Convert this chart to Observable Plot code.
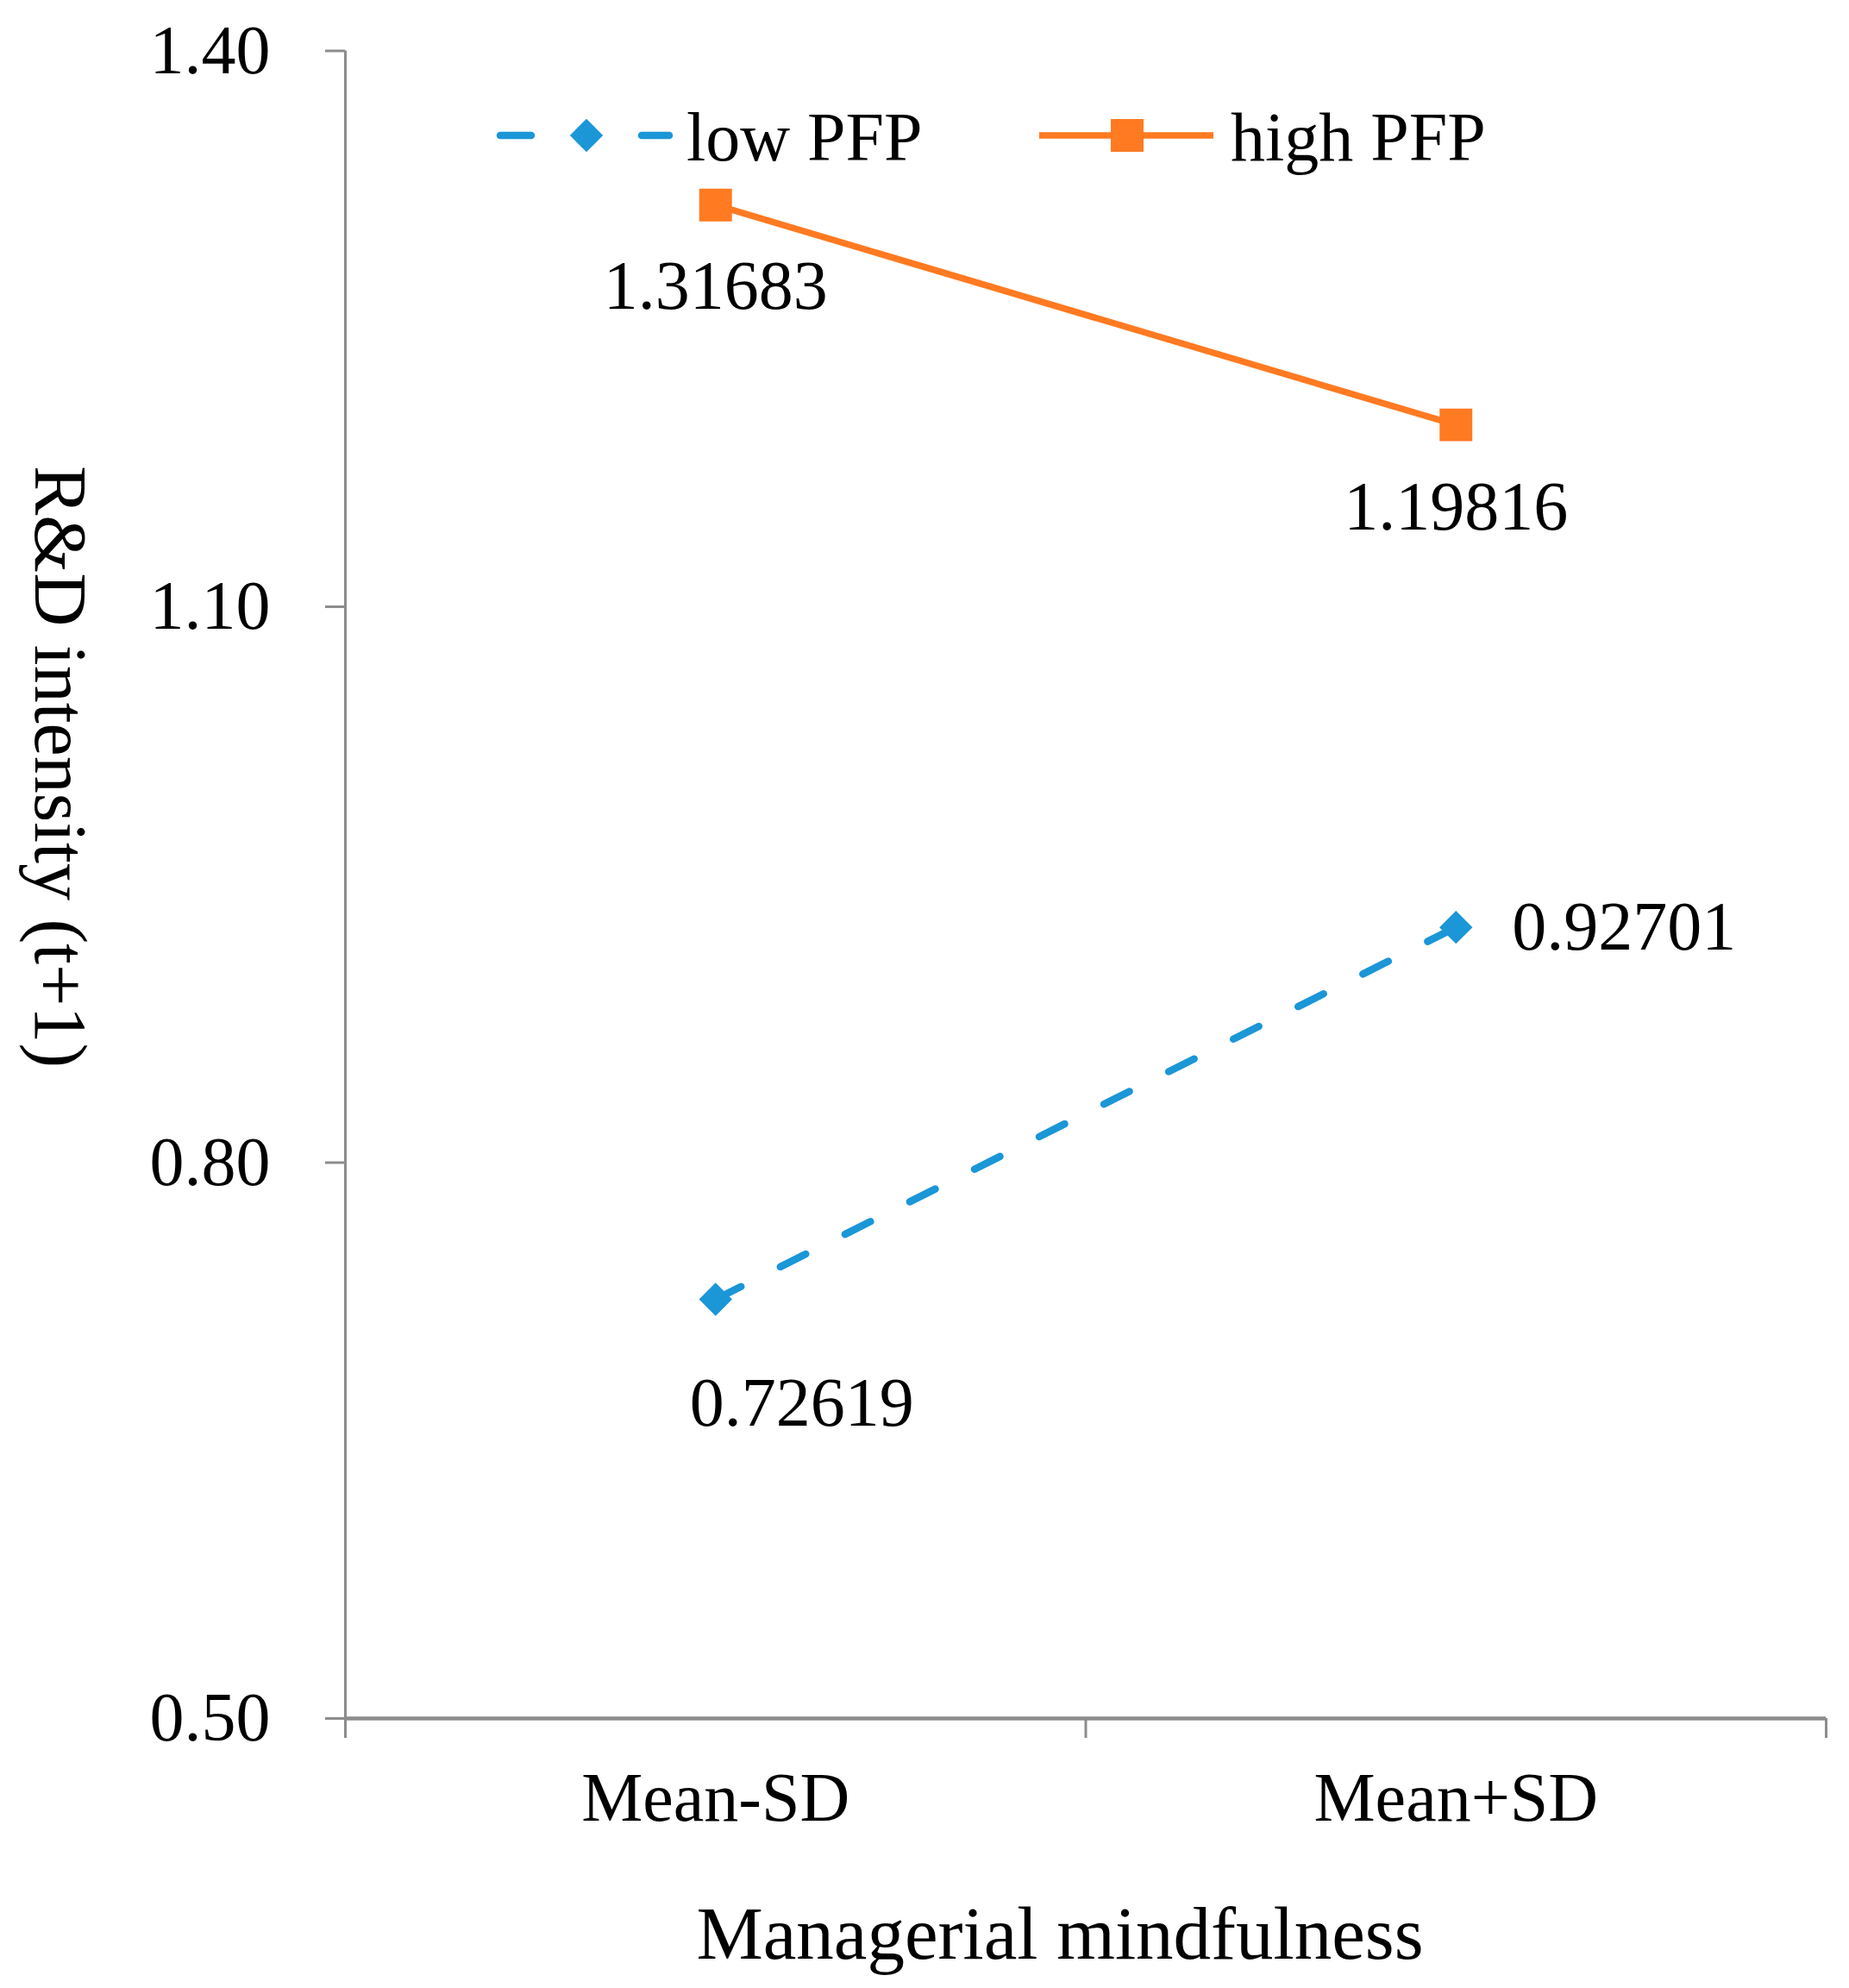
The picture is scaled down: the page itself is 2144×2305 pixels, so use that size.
<!DOCTYPE html>
<html>
<head>
<meta charset="utf-8">
<script src="https://cdn.jsdelivr.net/npm/d3@7"></script>
<script src="https://cdn.jsdelivr.net/npm/@observablehq/plot@0.6"></script>
<style>
  html, body { margin: 0; padding: 0; background: #ffffff; }
  #chart svg { display: block; }
</style>
</head>
<body>
<div id="chart"></div>
<script>
// ---- data ----
const categories = ["Mean-SD", "Mean+SD"];
const seriesNames = ["low PFP", "high PFP"];
const lowPFP = [0.72619, 0.92701];
const highPFP = [1.31683, 1.19816];
const yTicks = [0.50, 0.80, 1.10, 1.40];
const xTitle = "Managerial mindfulness";
const yTitle = "R&D intensity (t+1)";

// ---- layout / style ----
const W = 2144, H = 2305;
const M = {top: 58.5, right: 27, bottom: 313, left: 400};
const blue = "#1b96d7", orange = "#ff7a21", axisGray = "#8c8c8c";
const font = "'Liberation Serif', 'Times New Roman', serif";
const fs = 80;
const lowWidth = 8.5, highWidth = 7.5;
// label placement per series (offsets in px from each point)
const labelPlacement = {
  "low PFP":  [{dx: 100, dy: 121, anchor: "middle"}, {dx: 65, dy: 0, anchor: "start"}],
  "high PFP": [{dx: 0, dy: 95, anchor: "middle"}, {dx: 0, dy: 96, anchor: "middle"}]
};

const pos = i => i + 0.5;
const lowData = categories.map((c, i) => ({cat: c, i, value: lowPFP[i], series: seriesNames[0]}));
const highData = categories.map((c, i) => ({cat: c, i, value: highPFP[i], series: seriesNames[1]}));

const labelMarks = [];
[[lowData, seriesNames[0]], [highData, seriesNames[1]]].forEach(([arr, name]) => {
  arr.forEach((d, k) => {
    const p = labelPlacement[name][k];
    labelMarks.push(Plot.text([d], {
      x: d => pos(d.i), y: "value", text: d => d3.format(".5f")(d.value),
      dx: p.dx, dy: p.dy, textAnchor: p.anchor, lineAnchor: "middle",
      fontSize: fs, fill: "#000"
    }));
  });
});

const chart = Plot.plot({
  width: W, height: H,
  marginTop: M.top, marginRight: M.right, marginBottom: M.bottom, marginLeft: M.left,
  style: {fontFamily: font, fontSize: fs + "px", background: "#fff", color: "#000", overflow: "visible"},
  x: {type: "linear", domain: [0, categories.length], axis: null},
  y: {type: "linear", domain: [yTicks[0], yTicks[yTicks.length - 1]], axis: null},
  marks: [
    // axes lines
    Plot.ruleX([0], {stroke: axisGray, strokeWidth: 3}),
    Plot.axisY({ticks: yTicks, tickFormat: d3.format(".2f"), tickSize: 23, tickPadding: 64,
      stroke: axisGray, strokeWidth: 3, fill: "#000", fontSize: fs, label: null}),
    Plot.axisX({ticks: d3.range(categories.length + 1), tickSize: 23, tickFormat: () => "",
      stroke: axisGray, strokeWidth: 3, label: null}),
    Plot.axisX({ticks: categories.map((c, i) => pos(i)), tickSize: 0, tickPadding: 62,
      tickFormat: d => categories[Math.floor(d)], fill: "#000", fontSize: fs, label: null}),
    Plot.ruleY([yTicks[0]], {stroke: axisGray, strokeWidth: 4.5}),
    // series
    Plot.line(highData, {x: d => pos(d.i), y: "value", stroke: orange, strokeWidth: highWidth}),
    Plot.line(lowData, {x: d => pos(d.i), y: "value", stroke: blue, strokeWidth: lowWidth,
      strokeDasharray: "33,51", strokeLinecap: "round"}),
    Plot.dot(highData, {x: d => pos(d.i), y: "value", symbol: "square", r: 21.4, fill: orange, stroke: "none"}),
    Plot.dot(lowData, {x: d => pos(d.i), y: "value", symbol: "diamond2", r: 17.3, fill: blue, stroke: "none"}),
    ...labelMarks
  ]
});

document.getElementById("chart").appendChild(chart);

// ---- legend and axis titles (decorations) ----
const svg = d3.select(chart);
const g = svg.append("g").attr("font-family", font).attr("fill", "#000");
const ly = 157;
// low PFP legend
g.append("line").attr("x1", 580).attr("x2", 616).attr("y1", ly).attr("y2", ly)
  .attr("stroke", blue).attr("stroke-width", lowWidth).attr("stroke-linecap", "round");
g.append("line").attr("x1", 744).attr("x2", 776).attr("y1", ly).attr("y2", ly)
  .attr("stroke", blue).attr("stroke-width", lowWidth).attr("stroke-linecap", "round");
g.append("path").attr("transform", `translate(680,${ly})`)
  .attr("d", d3.symbol(d3.symbolDiamond2, Math.PI * 17.3 * 17.3)()).attr("fill", blue);
g.append("text").attr("x", 796).attr("y", 186).attr("font-size", fs)
  .attr("text-anchor", "start").text(seriesNames[0]);
// high PFP legend
g.append("line").attr("x1", 1205).attr("x2", 1407).attr("y1", ly).attr("y2", ly)
  .attr("stroke", orange).attr("stroke-width", highWidth);
g.append("path").attr("transform", `translate(1307,${ly})`)
  .attr("d", d3.symbol(d3.symbolSquare, Math.PI * 21.4 * 21.4)()).attr("fill", orange);
g.append("text").attr("x", 1427).attr("y", 186).attr("font-size", fs)
  .attr("text-anchor", "start").text(seriesNames[1]);

// axis titles
g.append("text").attr("x", 1229).attr("y", 2271).attr("text-anchor", "middle")
  .attr("font-size", 87).text(xTitle);
g.append("text").attr("transform", "translate(70,889) rotate(90)").attr("text-anchor", "middle")
  .attr("dominant-baseline", "central").attr("font-size", 86).text(yTitle);
</script>
</body>
</html>
